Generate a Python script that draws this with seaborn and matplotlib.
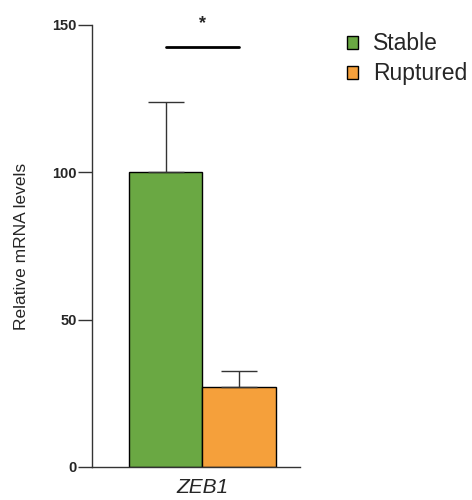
import pandas as pd
import matplotlib
matplotlib.use('Agg')
import matplotlib.pyplot as plt
import seaborn as sns

# data
genes = ['ZEB1', 'ZEB1']
groups = ['Stable', 'Ruptured']
means = [100, 27]
err_up = [24, 5.5]
colors = ['#6aa843', '#f5a03b']
yticks = [0, 50, 100, 150]

df = pd.DataFrame({'gene': genes, 'group': groups, 'value': means})

sns.set_style('ticks')
plt.rcParams['font.family'] = ['Liberation Sans', 'DejaVu Sans']

fig = plt.figure(figsize=(4.72, 5), dpi=100)
ax = fig.add_axes([92 / 472, 1 - 467 / 500, 208 / 472, 442 / 500])

sns.barplot(data=df, x='gene', y='value', hue='group', palette=colors,
            saturation=1, edgecolor='black', linewidth=1, errorbar=None,
            ax=ax, legend=True)

# upper-only error bars at the bar centres
centers = [p.get_x() + p.get_width() / 2 for p in ax.patches[:len(means)]]
ax.errorbar(centers, means, yerr=[[0] * len(means), err_up], fmt='none',
            ecolor='#333333', elinewidth=1, capsize=13.3, capthick=1, zorder=1)

# significance bar
ax.plot(centers, [142.5, 142.5], color='black', lw=2, clip_on=False)
ax.text(sum(centers) / 2, 150.5, '*', ha='center', va='center',
        fontsize=13, fontweight='bold', clip_on=False)

ax.set_ylim(0, 150)
ax.set_xlim(-0.6, 0.53)
ax.set_yticks(yticks)
ax.set_yticklabels([str(t) for t in yticks], fontsize=10.5, fontweight='bold')
ax.tick_params(axis='y', length=10, width=1, color='#333333', pad=1)
ax.tick_params(axis='x', length=0, labelsize=15, pad=8)
for lab in ax.get_xticklabels():
    lab.set_fontstyle('italic')
ax.set_xlabel('')
ax.set_ylabel('Relative mRNA levels', fontsize=12.5, labelpad=17)
sns.despine(ax=ax)
for s in ['left', 'bottom']:
    ax.spines[s].set_color('#333333')
    ax.spines[s].set_linewidth(1)

ax.legend(loc='upper left', bbox_to_anchor=(347 / 472, 0.935),
          bbox_transform=fig.transFigure, frameon=False, fontsize=16.5,
          handlelength=0.5, handleheight=0.5, handletextpad=0.65,
          labelspacing=0.3, borderpad=0, borderaxespad=0)

fig.savefig('out.png', dpi=100)
